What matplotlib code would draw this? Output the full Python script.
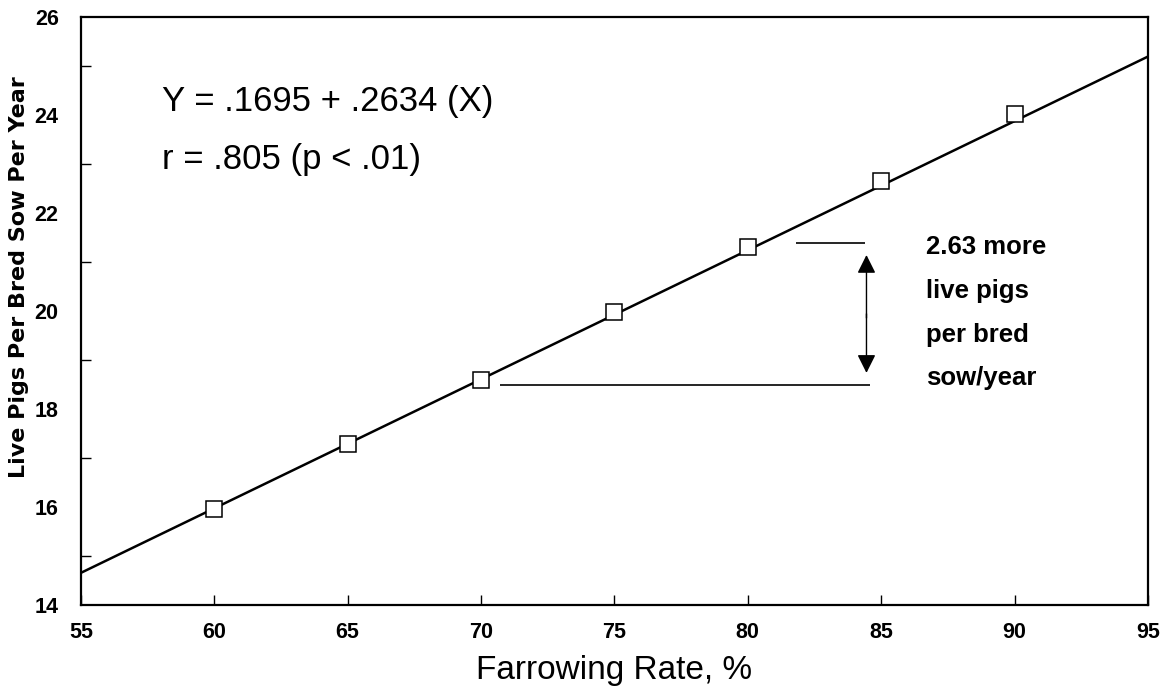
import numpy as np
import matplotlib.pyplot as plt

plt.rcParams['font.family'] = ['Liberation Sans', 'DejaVu Sans']

# farrowing rate (%) vs live pigs per bred sow per year
farrowing_rate = [60, 65, 70, 75, 80, 85, 90]
live_pigs = [15.95, 17.28, 18.6, 19.97, 21.3, 22.65, 24.02]

intercept = 0.1695
slope = 0.2634
fit_x = [55, 95]

x_ticks = [55, 60, 65, 70, 75, 80, 85, 90, 95]
y_ticks = [14, 16, 18, 20, 22, 24, 26]

note_lines = ["2.63 more", "live pigs", "per bred", "sow/year"]

fig = plt.figure(figsize=(11.63, 6.95), dpi=100)
ax = fig.add_axes([0.0696, 0.1295, 0.9174, 0.846])

fx = np.array(fit_x)
ax.plot(fx, intercept + slope * fx, color='black', lw=1.8)
ax.plot(farrowing_rate, live_pigs, 's', ms=11.5, mfc='white', mec='black', mew=1.1)

ax.set_xlim(55, 95)
ax.set_ylim(14, 26)
ax.set_xticks(x_ticks)
ax.set_yticks(y_ticks)
ax.set_yticks([15, 17, 19, 21, 23, 25], minor=True)
ax.tick_params(axis='x', direction='in', length=7, width=1, pad=12, labelsize=15.5)
ax.tick_params(axis='y', which='major', length=0, pad=16, labelsize=15.5)
ax.tick_params(axis='y', which='minor', direction='in', length=7, width=1)
for lab in ax.get_xticklabels() + ax.get_yticklabels():
    lab.set_fontweight('bold')
for s in ax.spines.values():
    s.set_linewidth(1.6)

ax.set_xlabel("Farrowing Rate, %", fontsize=24, labelpad=9)
ax.set_ylabel("Live Pigs Per Bred Sow Per Year", fontsize=16, fontweight='bold',
              family='DejaVu Sans')
ax.yaxis.set_label_coords(-0.049, 0.557)

ax.text(58.05, 24.27, "Y = .1695 + .2634 (X)", fontsize=25, va='center')
ax.text(58.05, 23.1, "r = .805 (p < .01)", fontsize=25, va='center')

# difference bracket
ax.hlines(18.5, 70.7, 84.6, color='black', lw=1.2)
ax.hlines(21.38, 81.8, 84.4, color='black', lw=1.2)
ax.annotate("", xy=(84.45, 21.2), xytext=(84.45, 19.8),
            arrowprops=dict(arrowstyle='-|>', color='black', lw=1, mutation_scale=28))
ax.annotate("", xy=(84.45, 18.68), xytext=(84.45, 20.0),
            arrowprops=dict(arrowstyle='-|>', color='black', lw=1, mutation_scale=28))

for i, t in enumerate(note_lines):
    ax.text(86.7, 21.3 - i * 0.89, t, fontsize=18.5, fontweight='bold', va='center')

fig.savefig("out.png", dpi=100)
